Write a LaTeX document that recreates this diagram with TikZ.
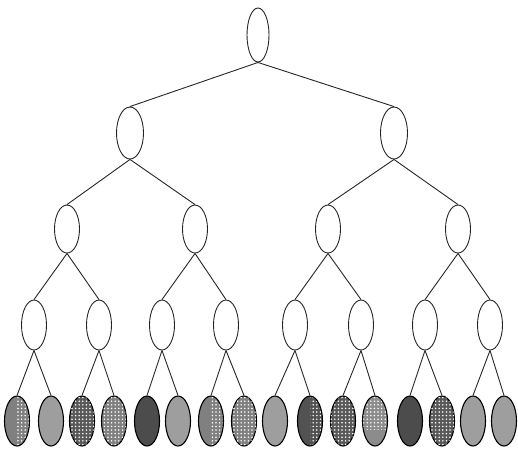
\documentclass[tikz,border=0pt]{standalone}
\usetikzlibrary{shapes.geometric,patterns}
\pgfdeclarepatternformonly{bigdots}{\pgfqpoint{-1pt}{-1pt}}{\pgfqpoint{1pt}{1pt}}{\pgfqpoint{3.6pt}{3.6pt}}{\pgfpathcircle{\pgfqpoint{0pt}{0pt}}{0.85pt}\pgfusepath{fill}}
\begin{document}
\begin{tikzpicture}[x=1pt,y=-1pt,
  nd/.style={ellipse,draw=black!85,line width=0.9pt,inner sep=0pt,minimum width=25pt,minimum height=50pt},
  lf/.style={nd,draw=black,line width=1.1pt,minimum height=50pt},
  lt/.style={lf,fill=black!38},
  dk/.style={lf,fill=black!70},
  dotdk/.style={lf,fill=black!65,postaction={pattern=bigdots,pattern color=white}},
  dotmd/.style={lf,fill=black!50,postaction={pattern=bigdots,pattern color=white}},
  halfmd/.style={lf,fill=black!50,path picture={\fill[pattern=bigdots,pattern color=white] (path picture bounding box.north) rectangle (path picture bounding box.south east);}},
  halfdk/.style={lf,fill=black!68,path picture={\fill[pattern=bigdots,pattern color=white] (path picture bounding box.north) rectangle (path picture bounding box.south east);}},
  topdot/.style={lf,fill=black!45,path picture={\fill[pattern=bigdots,pattern color=white] (path picture bounding box.north west) rectangle ([yshift=-8pt]path picture bounding box.east);}},
  ed/.style={draw=black!85,line width=0.9pt}]
\useasboundingbox (0,0) rectangle (518,448);
% root
\node[nd,minimum width=22pt,minimum height=54pt] (r) at (258,35) {};
% level 1
\node[nd,minimum width=27pt,minimum height=52pt] (a1) at (130,133) {};
\node[nd,minimum width=27pt,minimum height=52pt] (a2) at (394,133) {};
% level 2
\node[nd,minimum height=48pt] (b1) at (67,229) {};
\node[nd,minimum height=48pt] (b2) at (195,229) {};
\node[nd,minimum height=48pt] (b3) at (328,229) {};
\node[nd,minimum height=48pt] (b4) at (458,229) {};
% level 3
\foreach \i/\x in {1/34,2/99,3/162,4/226,5/295,6/361,7/425,8/490}
  \node[nd] (c\i) at (\x,325) {};
% leaves
\node[halfmd] (d1) at (17,421) {};
\node[lt] (d2) at (51,421) {};
\node[dotdk] (d3) at (82,421) {};
\node[dotmd] (d4) at (114,421) {};
\node[dk] (d5) at (147,421) {};
\node[lt] (d6) at (178,421) {};
\node[halfmd] (d7) at (211,421) {};
\node[dotmd] (d8) at (244,421) {};
\node[lt] (d9) at (275,421) {};
\node[halfdk] (d10) at (310,421) {};
\node[dotdk] (d11) at (343,421) {};
\node[topdot] (d12) at (375,421) {};
\node[dk] (d13) at (410,421) {};
\node[dotdk] (d14) at (442,421) {};
\node[lt] (d15) at (473,421) {};
\node[lt] (d16) at (504,421) {};
% edges
\draw[ed] (r.south) -- (a1.north);
\draw[ed] (r.south) -- (a2.north);
\draw[ed] (a1.south) -- (b1.north);
\draw[ed] (a1.south) -- (b2.north);
\draw[ed] (a2.south) -- (b3.north);
\draw[ed] (a2.south) -- (b4.north);
\draw[ed] (b1.south) -- (c1.north);
\draw[ed] (b1.south) -- (c2.north);
\draw[ed] (b2.south) -- (c3.north);
\draw[ed] (b2.south) -- (c4.north);
\draw[ed] (b3.south) -- (c5.north);
\draw[ed] (b3.south) -- (c6.north);
\draw[ed] (b4.south) -- (c7.north);
\draw[ed] (b4.south) -- (c8.north);
\foreach \p/\l/\rr in {1/1/2,2/3/4,3/5/6,4/7/8,5/9/10,6/11/12,7/13/14,8/15/16}{
  \draw[ed] (c\p.south) -- (d\l.north);
  \draw[ed] (c\p.south) -- (d\rr.north);
}
\end{tikzpicture}
\end{document}
